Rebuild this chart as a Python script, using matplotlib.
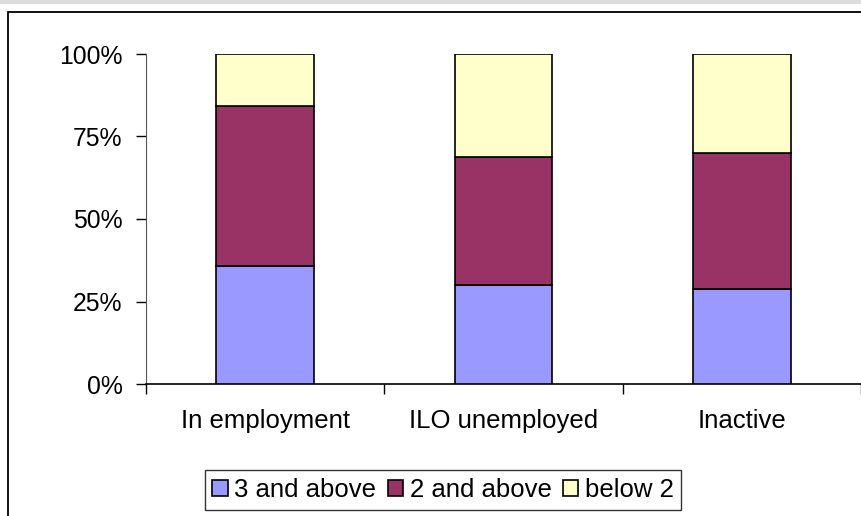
import numpy as np
import matplotlib
matplotlib.use('Agg')
import matplotlib.pyplot as plt
from matplotlib.patches import Rectangle

plt.rcParams['font.family'] = ['Liberation Sans', 'DejaVu Sans']

#data (percent of each group)
categories = ['In employment', 'ILO unemployed', 'Inactive']
series_names = ['3 and above', '2 and above', 'below 2']
three_above = [35.8, 30.0, 28.8]
two_above = [48.4, 38.8, 41.2]
below_two = [15.8, 31.2, 30.0]
colors = ['#9999FF', '#993366', '#FFFFCC']
yticks = [0, 25, 50, 75, 100]
ytick_labels = ['0%', '25%', '50%', '75%', '100%']

fs = 17.8
fs_big = 18.5

fig = plt.figure(figsize=(8.61, 5.16), dpi=100)

#grey strip at the very top + outer chart frame
fig.patches.append(Rectangle((0, 1 - 3.5 / 516), 1, 3.5 / 516, transform=fig.transFigure,
                             facecolor='#dcdcdc', edgecolor='none'))
fig.patches.append(Rectangle((8 / 861, -0.02), 1.05, 1.02 - 11.7 / 516, transform=fig.transFigure,
                             facecolor='none', edgecolor='black', linewidth=1.3))

ax = fig.add_axes([146 / 861, 1 - 384 / 516, 1.0 - 146 / 861, 330 / 516])

x = np.arange(len(categories))
bottom = np.zeros(len(categories))
handles = []
for vals, name, c in zip([three_above, two_above, below_two], series_names, colors):
    b = ax.bar(x, vals, width=0.41, bottom=bottom, color=c, edgecolor='black',
               linewidth=1.2, label=name, zorder=3)
    bottom += np.array(vals)
    handles.append(b)

ax.set_xlim(-0.5, 2.5)
ax.set_ylim(0, 100)
ax.set_yticks(yticks)
ax.set_yticklabels(ytick_labels, fontsize=fs)

#category boundary ticks, labels in the middle
ax.set_xticks([-0.5, 0.5, 1.5, 2.5])
ax.set_xticklabels([])
ax.set_xticks(x, minor=True)
ax.set_xticklabels(categories, minor=True, fontsize=fs_big)
ax.tick_params(axis='x', which='major', length=7, direction='out', width=1)
ax.tick_params(axis='x', which='minor', length=0, pad=18)
ax.tick_params(axis='y', length=7, width=1, pad=10)

ax.spines['top'].set_visible(False)
ax.spines['right'].set_visible(False)
ax.spines['left'].set_bounds(0, 100)
ax.spines['bottom'].set_linewidth(1.2)
ax.spines['left'].set_color('#555555')

leg = fig.legend(handles=handles, labels=series_names, loc='center',
                 bbox_to_anchor=(443 / 861, 1 - 490 / 516), ncol=3, fontsize=fs_big,
                 handlelength=0.6, handleheight=0.6, handletextpad=0.25,
                 columnspacing=0.45, borderpad=0.3, fancybox=False, frameon=True)
leg.get_frame().set_edgecolor('black')
leg.get_frame().set_linewidth(1.0)

fig.savefig('out.png', dpi=100)
